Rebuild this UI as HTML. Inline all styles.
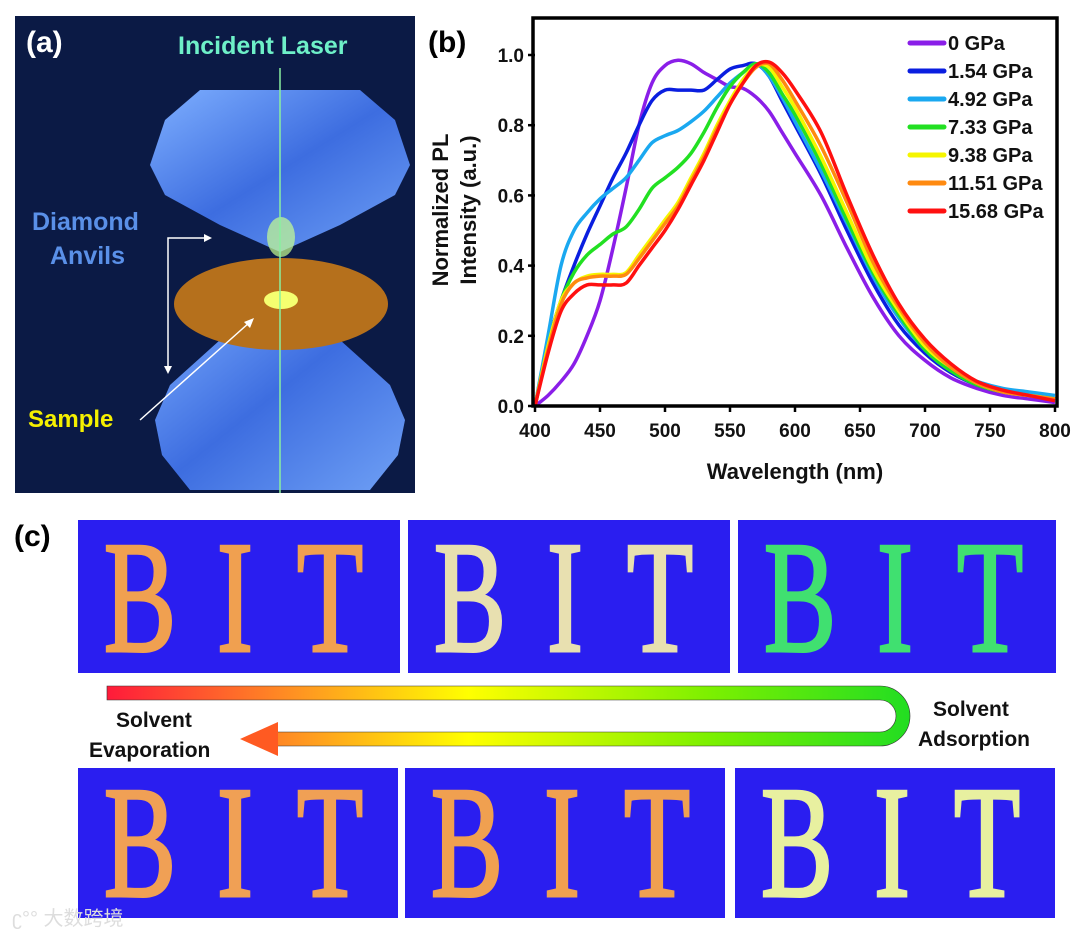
<!DOCTYPE html>
<html><head><meta charset="utf-8"><style>
html,body{margin:0;padding:0;background:#fff;}
body{width:1080px;height:937px;position:relative;overflow:hidden;font-family:"Liberation Sans",Arial,sans-serif;}
</style></head><body>
<svg width="1080" height="937" viewBox="0 0 1080 937" xmlns="http://www.w3.org/2000/svg" style="position:absolute;left:0;top:0">
<defs>
<linearGradient id="dia" x1="0" y1="0" x2="1" y2="1">
<stop offset="0" stop-color="#7fb0ff"/><stop offset="0.5" stop-color="#3d6de0"/><stop offset="1" stop-color="#6fa0f5"/></linearGradient>
<linearGradient id="arr" x1="0" y1="0" x2="1" y2="0">
<stop offset="0" stop-color="#ff1a3a"/><stop offset="0.25" stop-color="#ff9a20"/><stop offset="0.45" stop-color="#ffff00"/><stop offset="0.75" stop-color="#7cf000"/><stop offset="1" stop-color="#22dd22"/></linearGradient>
</defs>

<g>
<rect x="15" y="16" width="400" height="477" fill="#0b1a45"/>
<polygon points="200,90 360,90 395,120 410,165 395,195 340,225 280,252 220,225 165,195 150,165 165,120" fill="url(#dia)"/>
<polygon points="280,290 340,340 390,385 405,420 398,455 370,490 190,490 162,455 155,420 170,385 220,340" fill="url(#dia)"/>
<ellipse cx="281" cy="304" rx="107" ry="46" fill="#b5701c"/>
<ellipse cx="281" cy="237" rx="14" ry="20" fill="#c8ff90" opacity="0.7"/>
<ellipse cx="281" cy="300" rx="17" ry="9" fill="#f5ff70"/>
<line x1="280" y1="68" x2="280" y2="493" stroke="#8af0a0" stroke-width="1.5"/>
<text x="26" y="52" font-size="30" font-weight="bold" fill="#fff">(a)</text>
<text x="178" y="54" font-size="25" font-weight="bold" fill="#6ef0c8">Incident Laser</text>
<text font-size="25" font-weight="bold" fill="#5a90e8"><tspan x="32" y="230">Diamond</tspan><tspan x="50" y="264">Anvils</tspan></text>
<text x="28" y="427" font-size="24" font-weight="bold" fill="#f5f000">Sample</text>
<polyline points="210,238 168,238 168,372" fill="none" stroke="#fff" stroke-width="1.5"/>
<polygon points="212,238 204,234 204,242" fill="#fff"/>
<polygon points="168,374 164,366 172,366" fill="#fff"/>
<line x1="140" y1="420" x2="250" y2="322" stroke="#fff" stroke-width="1.5"/>
<polygon points="254,318 244,322 250,328" fill="#fff"/>
</g>

<text x="428" y="52" font-size="30" font-weight="bold" fill="#000">(b)</text>
<g id="chart"></g>

<text x="14" y="546" font-size="30" font-weight="bold" fill="#000">(c)</text>
<g id="photos"></g>
<g>
<path d="M107,686 H880 A27,27 0 0 1 880,746 H275 V732 H880 A13,13 0 0 0 880,700 H107 Z" fill="url(#arr)" stroke="#333" stroke-width="0.6"/>
<polygon points="240,739 278,722 278,756" fill="#ff5a22"/>
</g>
<text font-size="21" font-weight="bold" fill="#111"><tspan x="116" y="727">Solvent</tspan><tspan x="89" y="757">Evaporation</tspan></text>
<text font-size="21" font-weight="bold" fill="#111"><tspan x="933" y="716">Solvent</tspan><tspan x="918" y="746">Adsorption</tspan></text>
<text x="12" y="925" font-size="20" fill="#ddd" font-family="'Liberation Sans','Noto Sans CJK SC',sans-serif">ʗ°° 大数跨境</text>
</svg>
<script>
const wavelengths=[400,410,420,430,440,450,460,470,480,490,500,510,520,530,540,550,560,570,580,590,600,620,640,660,680,700,720,740,760,780,800];
const s0=[0,0.03,0.07,0.12,0.2,0.3,0.45,0.62,0.8,0.92,0.97,0.985,0.975,0.95,0.93,0.91,0.905,0.88,0.84,0.78,0.72,0.6,0.45,0.31,0.2,0.13,0.08,0.05,0.03,0.02,0.01];
const s154=[0,0.18,0.3,0.4,0.49,0.57,0.65,0.72,0.8,0.87,0.9,0.9,0.9,0.9,0.93,0.96,0.97,0.975,0.94,0.87,0.8,0.66,0.5,0.35,0.23,0.15,0.095,0.06,0.04,0.03,0.02];
const s492=[0,0.2,0.4,0.5,0.55,0.59,0.62,0.65,0.7,0.75,0.77,0.785,0.81,0.84,0.88,0.92,0.95,0.975,0.94,0.88,0.81,0.67,0.52,0.37,0.25,0.16,0.1,0.07,0.05,0.04,0.03];
const s733=[0,0.17,0.3,0.38,0.43,0.46,0.49,0.51,0.56,0.62,0.65,0.68,0.72,0.78,0.85,0.91,0.95,0.975,0.95,0.89,0.83,0.69,0.53,0.38,0.26,0.16,0.1,0.06,0.04,0.03,0.02];
const s938=[0,0.17,0.3,0.35,0.37,0.375,0.375,0.38,0.43,0.48,0.53,0.58,0.65,0.72,0.8,0.87,0.93,0.97,0.965,0.91,0.85,0.71,0.55,0.39,0.27,0.17,0.11,0.065,0.04,0.03,0.02];
const s1151=[0,0.16,0.29,0.35,0.365,0.37,0.37,0.375,0.42,0.47,0.52,0.57,0.64,0.71,0.79,0.86,0.92,0.965,0.975,0.93,0.87,0.74,0.58,0.41,0.28,0.18,0.11,0.065,0.04,0.03,0.02];
const s1568=[0,0.15,0.27,0.32,0.345,0.345,0.345,0.35,0.4,0.45,0.5,0.56,0.63,0.7,0.78,0.86,0.92,0.97,0.98,0.95,0.9,0.78,0.6,0.43,0.29,0.19,0.12,0.07,0.045,0.03,0.015];
const seriesLabels=["0 GPa","1.54 GPa","4.92 GPa","7.33 GPa","9.38 GPa","11.51 GPa","15.68 GPa"];
const seriesValues=[s0,s154,s492,s733,s938,s1151,s1568];
const seriesColors=["#8a1ee8","#0a1ee0","#1aa8f0","#22e022","#f5f500","#ff8a10","#ff1010"];
const xTicks=[400,450,500,550,600,650,700,750,800];
const yTicks=[0,0.2,0.4,0.6,0.8,1.0];
const NS="http://www.w3.org/2000/svg";
const X0=535,X1=1055,Y0=406,Y1=55;
const xs=v=>X0+(v-400)/400*(X1-X0);
const ys=v=>Y0-v*(Y0-Y1);
const chart=document.getElementById('chart');
function mk(tag,attrs,parent){const e=document.createElementNS(NS,tag);for(const k in attrs)e.setAttribute(k,attrs[k]);(parent||chart).appendChild(e);return e;}
function smooth(pts){let d=`M${pts[0][0]},${pts[0][1]}`;for(let i=0;i<pts.length-1;i++){const p0=pts[i-1]||pts[i],p1=pts[i],p2=pts[i+1],p3=pts[i+2]||p2;d+=` C${p1[0]+(p2[0]-p0[0])/6},${p1[1]+(p2[1]-p0[1])/6} ${p2[0]-(p3[0]-p1[0])/6},${p2[1]-(p3[1]-p1[1])/6} ${p2[0]},${p2[1]}`;}return d;}
seriesValues.forEach((vals,i)=>{
 const p=mk('path',{d:smooth(vals.map((v,j)=>[xs(wavelengths[j]),ys(v)])),fill:'none',stroke:seriesColors[i],'stroke-width':3.5,'stroke-linejoin':'round'});
 
 
});
const box=mk('rect',{x:533,y:18,width:524,height:388,fill:'none',stroke:'#000','stroke-width':3.5});


xTicks.forEach(t=>{
 mk('line',{x1:xs(t),x2:xs(t),y1:Y0,y2:Y0+6,stroke:'#000','stroke-width':2.5});
 const tx=mk('text',{x:xs(t),y:Y0+31,'text-anchor':'middle','font-size':19,'font-weight':'bold',fill:'#111'});tx.textContent=t;
 
 
});
yTicks.forEach(t=>{
 mk('line',{x1:X0-7,x2:X0,y1:ys(t),y2:ys(t),stroke:'#000','stroke-width':2.5});
 const tx=mk('text',{x:X0-11,y:ys(t)+7,'text-anchor':'end','font-size':19,'font-weight':'bold',fill:'#111'});tx.textContent=t.toFixed(1);
 
 
});
const xt=mk('text',{x:795,y:479,'text-anchor':'middle','font-size':22,'font-weight':'bold',fill:'#111'});xt.textContent='Wavelength (nm)';


const yt=mk('text',{transform:'translate(448,210) rotate(-90)','text-anchor':'middle','font-size':22,'font-weight':'bold',fill:'#111'});
yt.innerHTML='<tspan x="0" y="0">Normalized PL</tspan><tspan x="0" y="28">Intensity (a.u.)</tspan>';


seriesLabels.forEach((l,i)=>{
 const y=43+i*28;
 const g=mk('g',{});
 
 
 mk('line',{x1:910,x2:944,y1:y,y2:y,stroke:seriesColors[i],'stroke-width':5,'stroke-linecap':'round'},g);
 const t=mk('text',{x:948,y:y+7,'font-size':20,'font-weight':'bold',fill:'#111'},g);t.textContent=l;
});
const photos=document.getElementById('photos');
const boxes=[[78,520,322,153],[408,520,322,153],[738,520,318,153],[78,768,320,150],[405,768,320,150],[735,768,320,150]];
const fills=["#f0a050","#e8e0b0","#40e070","#f0a055","#f0a050","#e8f0a0"];
boxes.forEach((b,i)=>{
 const g=mk('g',{},photos);
 
 
 mk('rect',{x:b[0],y:b[1],width:b[2],height:b[3],fill:'#2a1ef0'},g);
 ['B','I','T'].forEach((c,k)=>{
  const cx=b[0]+62+k*95;
  const t=mk('text',{x:cx,y:b[1]+b[3]-22,'text-anchor':'middle','font-size':160,'font-family':'Liberation Serif,serif',fill:fills[i],stroke:fills[i],'stroke-width':3,transform:`translate(${cx},0) scale(0.68,1) translate(${-cx},0)`},g);
  t.textContent=c;
 });
});
</script>
</body></html>
